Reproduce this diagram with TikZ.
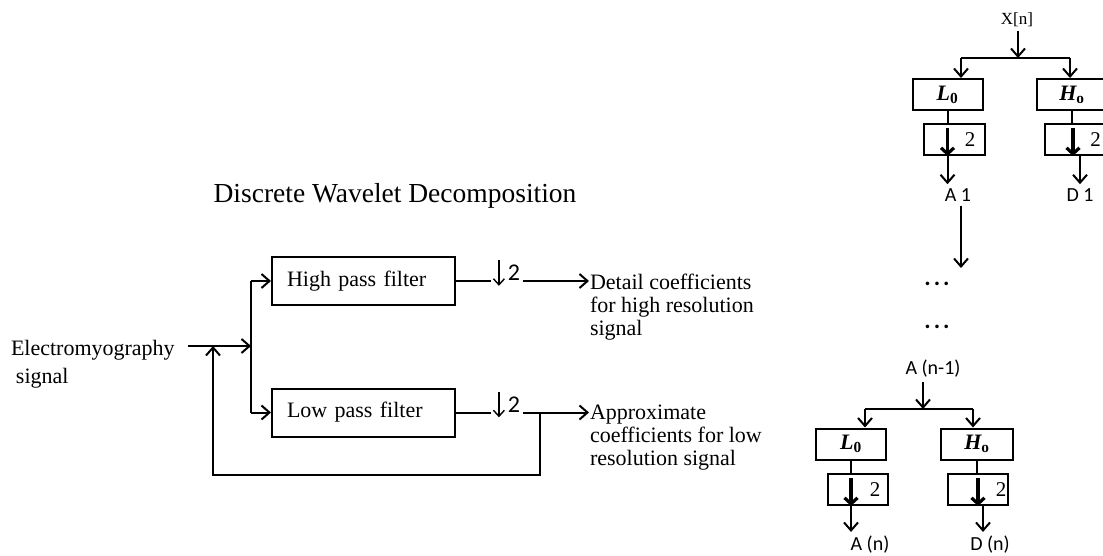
\documentclass[tikz,border=0pt]{standalone}
\usepackage{fontspec}
\setmainfont{Liberation Serif}
\setsansfont{Carlito}
\usetikzlibrary{arrows.meta, positioning}
\tikzset{
  txt/.style={font=\fontsize{22}{23}\selectfont, inner sep=0pt},
  filt/.style={draw, font=\fontsize{22}{23}\selectfont, minimum height=48pt, text width=153pt, align=left, inner xsep=15pt},
  lbl/.style={font=\sffamily\fontsize{20}{22}\selectfont},
  two/.style={font=\sffamily\fontsize{24}{24}\selectfont, inner sep=1pt},
  fbox/.style={draw, minimum width=70pt, minimum height=31pt, inner sep=0pt, font=\fontsize{22}{22}\selectfont},
  dsbox/.style={draw, minimum width=61pt, minimum height=31pt, inner sep=0pt, font=\fontsize{21}{22}\selectfont},
  thk/.style={line width=3.2pt, -{Straight Barb[length=6pt,width=13pt]}},
  thin/.style={line width=1.4pt, -{Straight Barb[length=6pt,width=11pt]}}
}
\newcommand{\Lo}{{\bfseries\itshape L}\textsubscript{\bfseries 0}}
\newcommand{\Ho}{{\bfseries\itshape H}\textsubscript{\bfseries o}}
\newcommand{\dotrow}{.\kern3pt.\kern3pt.}

\begin{document}
\begin{tikzpicture}[x=1pt, y=-1pt, line width=2pt, >={Straight Barb[length=8pt,width=14pt]}]
        \useasboundingbox (0,0) rectangle (1103,556);

        % Nodes, left
        \node[font=\fontsize{27.5}{30}\selectfont] (title) at (395,196) {Discrete Wavelet Decomposition};
        \node[filt] (hp) at (363.5,281) {High pass filter};
        \node[filt] (lp) at (363.5,412.5) {Low pass filter};
        \node[txt, anchor=north west, align=left] (emg) at (10,339) {Electromyography\\[5pt]\hspace*{5pt}signal};
        \node[two] (dsHi) at (514,273) {2};
        \node[two] (dsLo) at (514,404.5) {2};
        \node[txt, anchor=north west, align=left] (det) at (589,273) {Detail coefficients\\for high resolution\\signal};
        \node[txt, anchor=north west, align=left] (apx) at (589,404) {Approximate\\coefficients for low\\resolution signal};
        \coordinate (in) at (188,346);
        \coordinate (split) at (251,346);
        \coordinate (fb) at (213,346);
        \coordinate (tap) at (540,412.5);

        % Edges, left
        \draw[->] (in) -- (split);
        \draw (split |- hp.west) -- (split |- lp.west);
        \draw[->] (split |- hp.west) -- (hp.west);
        \draw[->] (split |- lp.west) -- (lp.west);
        \draw (hp.east) -- ++(35,0);
        \draw[thin] ([shift={(-7,-3)}]dsHi.north west) -- ([shift={(-7,3)}]dsHi.south west);
        \draw[->] ([xshift=1pt]dsHi.east |- hp.east) -- (hp.east -| det.west);
        \draw (lp.east) -- ++(35,0);
        \draw[thin] ([shift={(-7,-3)}]dsLo.north west) -- ([shift={(-7,3)}]dsLo.south west);
        \draw[->] ([xshift=1pt]dsLo.east |- lp.east) -- (lp.east -| apx.west);
        \draw[->] (tap) -- ++(0,62.5) -| (fb);

        % Nodes, first level
        \node[font=\fontsize{17}{19}\selectfont] (xn) at (1017,20) {X[n]};
        \node[fbox] (L1) at (947.5,94.5) {\Lo};
        \node[fbox] (H1) at (1072,94.5) {\Ho};
        \node[dsbox] (dL1) at (954.5,139.5) {\hspace*{31pt}2};
        \node[dsbox] (dH1) at (1075.5,139.5) {\hspace*{40pt}2};
        \node[lbl] (A1) at (958,195) {A 1};
        \node[lbl] (D1) at (1080,195) {D 1};
        \coordinate (br1) at (1018,58);
        \coordinate (bL1) at (961,58);
        \coordinate (bH1) at (1070,58);
        \coordinate (gap) at (961,268);

        % Edges, first level
        \draw[->] (xn.south -| br1) -- (br1);
        \draw (bL1) -- (bH1);
        \draw[->] (bL1) -- (bL1 |- L1.north);
        \draw[->] (bH1) -- (bH1 |- H1.north);
        \draw (L1.south) -- (L1.south |- dL1.north);
        \draw (H1.south) -- (H1.south |- dH1.north);
        \draw[thk] ([yshift=-5pt]dL1.north -| L1.south) -- (dL1.south -| L1.south);
        \draw[thk] ([yshift=-5pt]dH1.north -| 1073,0) -- (dH1.south -| 1073,0);
        \draw[->] (dL1.south -| L1.south) -- (A1.north -| L1.south);
        \draw[->] (dH1.south -| D1) -- (D1.north);
        \draw[->] (A1.south -| gap) -- (gap);

        % Dots
        \node[lbl, font=\sffamily\bfseries\fontsize{24}{24}\selectfont] (dots1) at (937,284) {\dotrow};
        \node[lbl, font=\sffamily\bfseries\fontsize{24}{24}\selectfont] (dots2) at (937,327) {\dotrow};

        % Nodes, last level
        \node[lbl] (An1) at (933,369) {A (n-1)};
        \node[fbox] (L2) at (851,444) {\Lo};
        \node[fbox, minimum width=72pt] (H2) at (977,444) {\Ho};
        \node[dsbox, minimum width=60pt] (dL2) at (858,489.5) {\hspace*{34pt}2};
        \node[dsbox, minimum width=60pt] (dH2) at (978,489.5) {\hspace*{46pt}2};
        \node[lbl] (An) at (870,545) {A (n)};
        \node[lbl] (Dn) at (990,545) {D (n)};
        \coordinate (br2) at (923,409);
        \coordinate (bL2) at (865,409);
        \coordinate (bH2) at (973,409);

        % Edges, last level
        \draw[->] (An1.south -| br2) -- (br2);
        \draw (bL2) -- (bH2);
        \draw[->] (bL2) -- (bL2 |- L2.north);
        \draw[->] (bH2) -- (bH2 |- H2.north);
        \draw (L2.south) -- (L2.south |- dL2.north);
        \draw (H2.south) -- (H2.south |- dH2.north);
        \draw[thk] ([yshift=-5pt]dL2.north -| L2.south) -- (dL2.south -| L2.south);
        \draw[thk] ([yshift=-5pt]dH2.north) -- (dH2.south);
        \draw[->] (dL2.south -| L2.south) -- (An.north -| L2.south);
        \draw[->] (dH2.south -| 983,0) -- (An.north -| 983,0);
    \end{tikzpicture}
\end{document}
